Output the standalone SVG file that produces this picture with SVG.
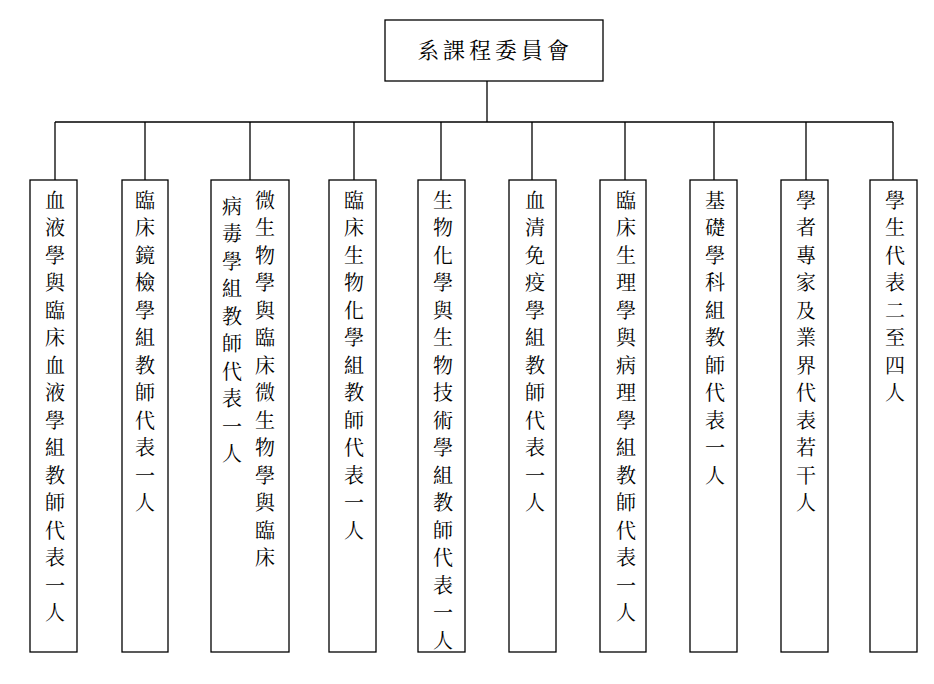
<svg xmlns="http://www.w3.org/2000/svg" width="934" height="684" viewBox="0 0 934 684">
<style>
rect{fill:#fff;stroke:#000;stroke-width:1.3}
line{stroke:#000;stroke-width:1.3}
text{font-family:"Noto Serif CJK TC","Noto Sans CJK TC",serif;font-size:20px;fill:#000}
.v{writing-mode:vertical-rl;letter-spacing:7.5px}
</style>
<rect width="934" height="684" style="stroke:none"/>
<g id="connectors">
<line x1="487" y1="81" x2="487" y2="122"/>
<line x1="55" y1="122" x2="893" y2="122"/>
<line x1="55" y1="122" x2="55" y2="180"/>
<line x1="145" y1="122" x2="145" y2="180"/>
<line x1="250" y1="122" x2="250" y2="180"/>
<line x1="354" y1="122" x2="354" y2="180"/>
<line x1="441" y1="122" x2="441" y2="180"/>
<line x1="532" y1="122" x2="532" y2="180"/>
<line x1="625" y1="122" x2="625" y2="180"/>
<line x1="714" y1="122" x2="714" y2="180"/>
<line x1="806" y1="122" x2="806" y2="180"/>
<line x1="893" y1="122" x2="893" y2="180"/>
</g>
<g id="top"><rect x="385" y="20" width="218" height="61"/><text x="495" y="58" text-anchor="middle" style="font-size:22px;letter-spacing:4px">系課程委員會</text></g>
<g id="n1"><rect x="30" y="180" width="47" height="472"/><text class="v" x="55" y="190">血液學與臨床血液學組教師代表一人</text></g>
<g id="n2"><rect x="122" y="180" width="46" height="472"/><text class="v" x="145" y="190">臨床鏡檢學組教師代表一人</text></g>
<g id="n3"><rect x="211" y="180" width="78" height="472"/><text class="v" x="265" y="190">微生物學與臨床微生物學與臨床</text><text class="v" x="232" y="196">病毒學組教師代表一人</text></g>
<g id="n4"><rect x="329" y="180" width="47" height="472"/><text class="v" x="354" y="190">臨床生物化學組教師代表一人</text></g>
<g id="n5"><rect x="418" y="180" width="47" height="472"/><text class="v" x="443" y="190">生物化學與生物技術學組教師代表一人</text></g>
<g id="n6"><rect x="509" y="180" width="47" height="472"/><text class="v" x="535" y="190">血清免疫學組教師代表一人</text></g>
<g id="n7"><rect x="600" y="180" width="46" height="472"/><text class="v" x="626" y="190">臨床生理學與病理學組教師代表一人</text></g>
<g id="n8"><rect x="690" y="180" width="47" height="472"/><text class="v" x="715" y="190">基礎學科組教師代表一人</text></g>
<g id="n9"><rect x="781" y="180" width="47" height="472"/><text class="v" x="806" y="190">學者專家及業界代表若干人</text></g>
<g id="n10"><rect x="870" y="180" width="47" height="472"/><text class="v" x="895" y="190">學生代表二至四人</text></g>
</svg>
